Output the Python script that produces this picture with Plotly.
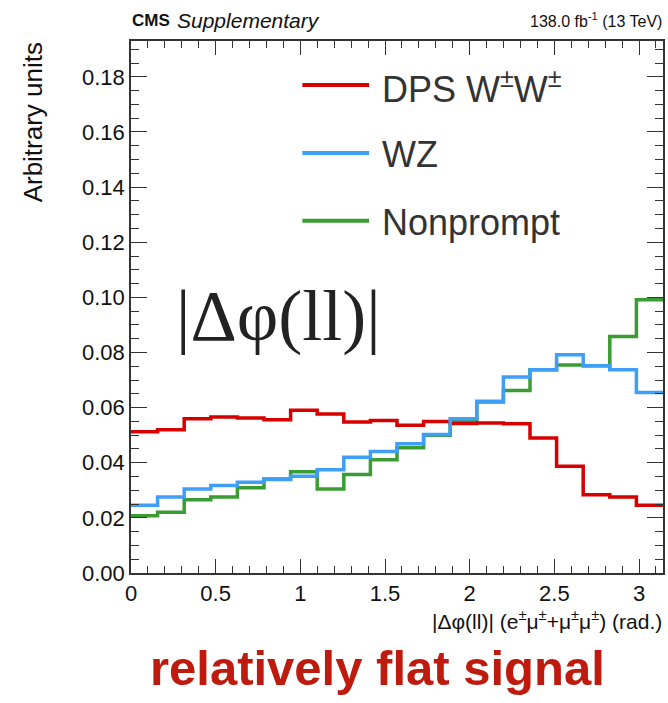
import math
import plotly.graph_objects as go

# ---- data ----
n_bins = 20
bin_edges = [i * math.pi / n_bins for i in range(n_bins + 1)]

dps_wpmwpm = [0.0512, 0.0520, 0.0560, 0.0566, 0.0562, 0.0556, 0.0590, 0.0577, 0.0548, 0.0553,
              0.0536, 0.0550, 0.0542, 0.0544, 0.0541, 0.0490, 0.0387, 0.0284, 0.0276, 0.0246]
wz = [0.0246, 0.0276, 0.0305, 0.0317, 0.0329, 0.0339, 0.0351, 0.0375, 0.0420, 0.0441,
      0.0469, 0.0502, 0.0560, 0.0623, 0.0711, 0.0737, 0.0792, 0.0752, 0.0737, 0.0655]
nonprompt = [0.0208, 0.0220, 0.0266, 0.0276, 0.0309, 0.0341, 0.0367, 0.0305, 0.0357, 0.0411,
             0.0454, 0.0500, 0.0550, 0.0620, 0.0662, 0.0737, 0.0755, 0.0752, 0.0858, 0.0991]

x_tickvals = [0, 0.5, 1, 1.5, 2, 2.5, 3]
x_ticktext = ["0", "0.5", "1", "1.5", "2", "2.5", "3"]
y_tickvals = [0.00, 0.02, 0.04, 0.06, 0.08, 0.10, 0.12, 0.14, 0.16, 0.18]
y_ticktext = ["0.00", "0.02", "0.04", "0.06", "0.08", "0.10", "0.12", "0.14", "0.16", "0.18"]

series = [
    ("Nonprompt", nonprompt, "#3a9c32"),
    ("DPS W<sup>±</sup>W<sup>±</sup>", dps_wpmwpm, "#d60000"),
    ("WZ", wz, "#3f9ef7"),
]
legend_order = [
    ("DPS W<sup>±</sup>W<sup>±</sup>", "#d60000"),
    ("WZ", "#3f9ef7"),
    ("Nonprompt", "#3a9c32"),
]

# ---- geometry ----
W, H = 668, 703
L, R, T, B = 131, 3, 41, 129.5
pw, ph = W - L - R, H - T - B


def px(x):
    return (x - L) / pw


def py(y):
    return (H - B - y) / ph


FONT = "Liberation Sans, Arial, Helvetica, sans-serif"

fig = go.Figure()
for name, vals, col in series:
    fig.add_trace(go.Scatter(
        x=bin_edges, y=vals + [vals[-1]], mode="lines", line_shape="hv",
        line=dict(color=col, width=3.5), name=name, showlegend=False,
        hoverinfo="skip"))

axis_common = dict(
    showline=True, mirror="ticks", linecolor="#333333", linewidth=1.5,
    ticks="inside", tickcolor="#333333", tickwidth=1.2,
    showgrid=False, zeroline=False,
    tickfont=dict(family=FONT, size=22, color="#111111"),
)
fig.update_xaxes(range=[0, math.pi], tickvals=x_tickvals, ticktext=x_ticktext,
                 ticklen=14, minor=dict(dtick=0.1, ticks="inside", ticklen=7,
                                        tickcolor="#333333", tickwidth=1.2, showgrid=False),
                 **axis_common)
fig.update_yaxes(range=[0, 0.193], tickvals=y_tickvals, ticktext=y_ticktext,
                 ticklen=16, minor=dict(dtick=0.005, tick0=0, ticks="inside", ticklen=8,
                                        tickcolor="#333333", tickwidth=1.2, showgrid=False),
                 **axis_common)

shapes = []
annotations = []
# manual legend
leg_y = [85, 153, 221]
for (lab, col), yy in zip(legend_order, leg_y):
    shapes.append(dict(type="line", xref="paper", yref="paper",
                       x0=px(303), x1=px(370), y0=py(yy), y1=py(yy),
                       line=dict(color=col, width=4)))
    annotations.append(dict(xref="paper", yref="paper", x=px(381), y=py(yy + 2),
                            text=lab, showarrow=False, xanchor="left", yanchor="middle",
                            font=dict(family=FONT, size=36, color="#333333")))

# big label inside plot
annotations.append(dict(xref="paper", yref="paper", x=px(279), y=py(316),
                        text="|Δφ(ll)|", showarrow=False, xanchor="center", yanchor="middle",
                        font=dict(family="Liberation Serif, Times New Roman, serif", size=72,
                                  color="#222222")))
# header
annotations.append(dict(xref="paper", yref="paper", x=px(130), y=py(20),
                        text="<b>CMS</b>", showarrow=False,
                        xanchor="left", yanchor="middle",
                        font=dict(family=FONT, size=17, color="#111111")))
annotations.append(dict(xref="paper", yref="paper", x=px(175), y=py(20),
                        text="<i>Supplementary</i>", showarrow=False,
                        xanchor="left", yanchor="middle",
                        font=dict(family=FONT, size=21, color="#111111")))
annotations.append(dict(xref="paper", yref="paper", x=px(666), y=py(20),
                        text="138.0 fb<sup>-1</sup> (13 TeV)", showarrow=False,
                        xanchor="right", yanchor="middle",
                        font=dict(family=FONT, size=16, color="#111111")))
# axis titles
annotations.append(dict(xref="paper", yref="paper", x=px(33), y=py(40),
                        text="Arbitrary units", showarrow=False, textangle=-90,
                        xanchor="center", yanchor="top",
                        font=dict(family=FONT, size=26, color="#111111")))
annotations.append(dict(xref="paper", yref="paper", x=px(666), y=py(621),
                        text="|Δφ(ll)| (e<sup>±</sup>μ<sup>±</sup>+μ<sup>±</sup>μ<sup>±</sup>) (rad.)",
                        showarrow=False, xanchor="right", yanchor="middle",
                        font=dict(family=FONT, size=21, color="#111111")))
# caption
annotations.append(dict(xref="paper", yref="paper", x=px(378), y=py(669),
                        text="<b>relatively flat signal</b>", showarrow=False,
                        xanchor="center", yanchor="middle",
                        font=dict(family=FONT, size=49, color="#bf1a0e")))

fig.update_layout(
    width=W, height=H, margin=dict(l=L, r=R, t=T, b=B, pad=0),
    paper_bgcolor="white", plot_bgcolor="white",
    shapes=shapes, annotations=annotations, showlegend=False,
)

fig.write_html("out.html")
